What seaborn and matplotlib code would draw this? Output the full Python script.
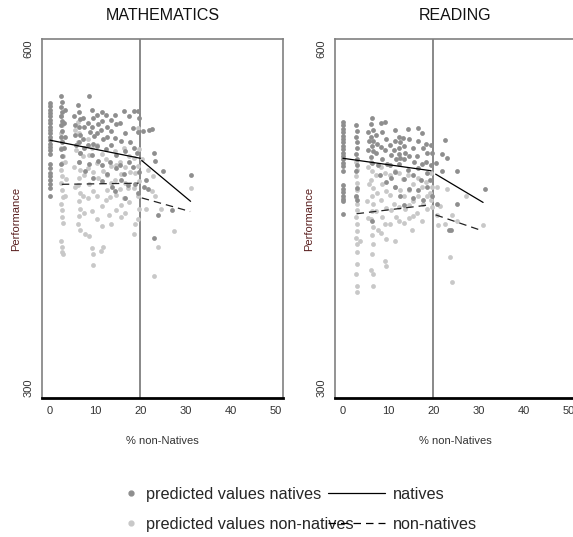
import numpy as np
import pandas as pd
import matplotlib
matplotlib.use("Agg")
import matplotlib.pyplot as plt
import seaborn as sns
from matplotlib.lines import Line2D

# ---- data ----
# MATHEMATICS, natives (dark points)
math_nat_x = [0] * 24 + [
    2.4, 2.6, 2.5, 2.7, 2.4, 2.6, 2.5, 2.7, 2.5, 2.6, 2.4, 2.6, 2.5, 3.3, 3.1, 3.4, 3.2,
    5.4, 5.6, 5.5, 5.8, 6.3, 6.5, 6.6, 6.4, 6.7, 6.5, 6.6, 6.4, 7.3, 7.6, 7.2, 7.5, 7.8,
    8.6, 8.4, 8.8, 8.5, 8.7, 9.4, 9.6, 9.3, 9.7, 9.5, 9.4, 9.6,
    10.4, 10.7, 10.5, 10.3, 10.6, 11.4, 11.6, 11.3, 11.7, 11.5, 11.4,
    12.4, 12.7, 12.5, 12.3, 12.6, 13.4, 13.6, 13.5, 13.3, 13.7,
    14.3, 14.6, 14.4, 14.7, 14.5, 14.4, 15.4, 15.6, 15.5, 15.7,
    16.4, 16.6, 16.5, 16.3, 16.6, 17.4, 17.6, 17.5, 17.3,
    18.5, 18.3, 18.6, 18.4, 18.7, 19.4, 19.6, 19.5, 19.3, 19.7, 19.5,
    20.5, 21.8, 22.5, 22.9, 23.3, 25.0, 21.3, 20.8, 21.6, 31.3, 24.0, 27.0, 23.0]
math_nat_y = [552, 549, 546, 543, 540, 537, 534, 531, 528, 525, 522, 519, 516, 513, 510, 507,
              498, 494, 490, 487, 484, 480, 477, 470] + [
    558, 553, 548, 544, 540, 536, 532, 527, 522, 517, 511, 505, 498, 546, 534, 522, 512,
    540, 532, 524, 515, 550, 544, 538, 531, 524, 517, 508, 500, 539, 531, 520, 512, 492,
    558, 534, 526, 515, 498, 546, 539, 531, 523, 516, 506, 486,
    541, 533, 525, 514, 501, 544, 536, 528, 520, 497, 483,
    541, 531, 522, 511, 489, 537, 527, 515, 500, 478,
    541, 533, 521, 506, 494, 474, 534, 518, 497, 484,
    545, 525, 509, 489, 468, 540, 517, 500, 479,
    545, 530, 512, 495, 480, 545, 539, 526, 508, 491, 472,
    527, 528, 529, 508, 501, 492, 484, 478, 476, 488, 453, 457, 433]

# MATHEMATICS, non-natives (light points)
math_non_x = [
    2.5, 2.7, 2.4, 2.6, 2.5, 2.8, 2.6, 2.4, 2.7, 2.5, 2.6, 2.8, 2.5, 2.7, 2.6, 2.9, 2.5, 2.7, 2.6, 2.8,
    3.4, 3.6, 3.3,
    5.5, 5.7, 5.4, 5.6, 6.2, 6.5, 6.3, 6.6, 6.4, 6.7, 6.5, 6.3, 6.6, 6.4, 6.7, 6.5, 6.3, 6.6,
    7.3, 7.6, 7.2, 7.5, 7.8,
    8.4, 8.7, 8.5, 8.6, 8.4, 8.6, 9.4, 9.6, 9.5, 9.3, 9.4, 9.6, 9.5,
    10.5, 10.3, 10.7, 10.5, 10.4, 11.4, 11.7, 11.5, 11.6, 11.7, 11.3,
    12.4, 12.6, 12.5, 12.3, 13.0, 13.4, 13.6, 13.3, 13.5,
    14.3, 14.6, 14.4, 14.7, 14.5, 15.4, 15.8, 15.5, 15.7, 15.8,
    16.4, 16.6, 16.5, 16.3, 16.7, 17.4, 17.6, 17.3, 17.5,
    18.5, 18.7, 18.6, 18.7, 18.5, 19.5, 19.6, 19.4, 19.6, 19.5, 19.7, 19.4,
    20.4, 21.7, 22.8, 23.3, 22.6, 31.3, 21.2, 24.6, 27.5, 24.0, 23.0]
math_non_y = [
    540, 532, 525, 518, 512, 505, 499, 493, 487, 481, 475, 469, 463, 457, 451, 446, 430, 425, 420, 418,
    500, 485, 470,
    528, 510, 495, 478, 535, 525, 517, 508, 500, 493, 486, 479, 472, 465, 458, 452, 445, 440,
    505, 488, 470, 455, 436,
    520, 506, 494, 480, 468, 434, 512, 491, 474, 456, 424, 418, 409,
    515, 499, 486, 470, 449, 507, 492, 461, 443, 425, 421,
    502, 488, 475, 466, 453, 496, 481, 469, 445,
    509, 497, 484, 471, 457, 500, 489, 476, 462, 451,
    512, 495, 481, 468, 455, 505, 491, 477, 464,
    503, 490, 477, 445, 436, 530, 511, 496, 483, 470, 458, 449,
    502, 493, 487, 470, 474, 477, 458, 458, 439, 425, 399]

# READING, natives
read_nat_x = [0] * 22 + [
    2.8, 3.1, 2.9, 3.0, 3.2, 2.9, 3.1, 3.0, 2.8, 3.1, 2.9, 3.0,
    5.5, 5.8, 5.6, 6.4, 6.2, 6.6, 6.3, 6.7, 6.4, 6.6, 6.3, 6.5, 6.4, 7.3, 7.6, 7.4, 7.7,
    8.4, 8.6, 8.5, 8.7, 8.3, 9.3, 9.6, 9.4, 9.7, 9.5,
    10.5, 10.7, 10.4, 10.6, 11.4, 11.6, 11.3, 11.7, 11.5, 11.6,
    12.4, 12.6, 12.3, 12.5, 12.7, 12.4, 12.6, 13.3, 13.5, 13.7, 13.4, 13.6, 13.5,
    14.4, 14.7, 14.5, 14.3, 14.6, 15.4, 15.7, 15.5, 15.6,
    16.5, 16.7, 16.4, 16.6, 16.5, 17.4, 17.6, 17.5, 17.3, 17.7,
    18.4, 18.6, 18.3, 18.7, 18.5, 19.4, 19.6, 19.5, 19.3, 19.7,
    22.6, 21.9, 23.0, 20.6, 21.9, 25.3, 31.4, 20.9, 25.2, 23.5, 24.0]
read_nat_y = [535, 532, 529, 526, 523, 520, 517, 514, 511, 508, 505, 502, 499, 496, 492,
              479, 476, 473, 470, 467, 465, 454] + [
    532, 527, 522, 517, 512, 507, 502, 497, 492, 477, 470, 466,
    526, 518, 510, 539, 533, 528, 522, 518, 514, 509, 504, 499, 448, 524, 516, 508, 497,
    534, 526, 513, 502, 488, 535, 520, 510, 498, 482,
    515, 506, 497, 486, 528, 518, 510, 502, 491, 478,
    522, 517, 512, 507, 503, 498, 470, 521, 514, 508, 502, 485, 462,
    529, 520, 505, 493, 476, 512, 500, 488, 468,
    530, 518, 505, 494, 475, 525, 512, 498, 484, 466,
    516, 508, 500, 490, 478, 515, 508, 497, 484, 470,
    519, 507, 503, 499, 492, 492, 476, 463, 463, 440, 440]

# READING, non-natives
read_non_x = [
    2.9, 3.1, 2.8, 3.0, 3.2, 2.9, 3.1, 3.0, 2.8, 3.1, 3.0, 2.9, 3.1, 3.0, 3.2, 2.9, 3.0, 3.1, 3.7,
    5.5, 5.7, 5.4, 5.6, 6.2, 6.5, 6.3, 6.6, 6.4, 6.7, 6.5, 6.3, 6.6, 6.4, 6.7, 6.5, 6.3, 6.6, 6.6,
    7.3, 7.6, 7.4, 7.7,
    8.4, 8.6, 8.5, 8.7, 8.4, 9.4, 9.6, 9.5, 9.3, 9.6, 9.4, 9.6,
    10.5, 10.3, 10.7, 10.5, 11.4, 11.6, 11.3, 11.7, 11.5,
    12.4, 12.6, 12.5, 12.3, 13.3, 13.5, 13.7, 13.4,
    14.4, 14.6, 14.5, 14.7, 15.4, 15.6, 15.5, 15.3,
    16.5, 16.7, 16.4, 17.4, 17.6, 17.5,
    18.4, 18.6, 18.5, 19.4, 19.6, 19.5, 19.3, 19.7,
    20.7, 23.0, 27.3, 21.4, 24.2, 20.8, 21.1, 25.3, 31.0, 22.6, 23.6, 24.2]
read_non_y = [
    500, 493, 487, 481, 475, 469, 463, 457, 451, 445, 439, 433, 427, 420, 410, 401, 390, 385, 430,
    495, 480, 465, 450, 500, 492, 484, 477, 470, 463, 456, 449, 442, 435, 427, 418, 404, 401, 390,
    488, 472, 456, 440,
    495, 480, 466, 451, 437, 490, 474, 459, 445, 432, 412, 408,
    488, 471, 457, 445, 492, 478, 463, 451, 430,
    490, 475, 460, 448, 485, 470, 458, 446,
    488, 475, 462, 450, 480, 465, 452, 440,
    486, 470, 455, 478, 463, 448,
    482, 470, 458, 490, 478, 466, 472, 460,
    478, 476, 470, 461, 453, 453, 444, 448, 444, 445, 416, 394]

# fitted lines: two segments each, split at 20 %
math_nat_line = [([0, 20], [519, 503]), ([20.3, 31.1], [501, 465])]
math_non_line = [([2.6, 19.6], [480, 481]), ([20.3, 31.0], [468, 456])]
read_nat_line = [([0, 19.5], [503, 492]), ([20.5, 31.0], [489, 464])]
read_non_line = [([3.0, 19.5], [454, 462]), ([20.5, 30.8], [453, 439])]

panels = [
    ("MATHEMATICS", math_nat_x, math_nat_y, math_non_x, math_non_y, math_nat_line, math_non_line),
    ("READING", read_nat_x, read_nat_y, read_non_x, read_non_y, read_nat_line, read_non_line),
]

nat_color = "#8e8e8e"
non_color = "#c8c8c8"
label_color = "#5a1f1f"

sns.set_style("white")
plt.rcParams["font.family"] = ["Liberation Sans", "DejaVu Sans"]

fig = plt.figure(figsize=(5.73, 5.37), dpi=100)
positions = [[0.0733, 0.2588, 0.4206, 0.6686], [0.5846, 0.2588, 0.4206, 0.6686]]

for pos, (title, nx, ny, ox, oy, nline, oline) in zip(positions, panels):
    ax = fig.add_axes(pos)
    sns.scatterplot(x=ox, y=oy, ax=ax, color=non_color, s=12, linewidth=0, marker="o", zorder=2)
    sns.scatterplot(x=nx, y=ny, ax=ax, color=nat_color, s=12, linewidth=0, marker="o", zorder=3)
    for sx, sy in nline:
        sns.lineplot(x=sx, y=sy, ax=ax, color="black", linewidth=0.9, sort=False, estimator=None, zorder=4)
    for sx, sy in oline:
        ln = sns.lineplot(x=sx, y=sy, ax=ax, color="#222222", linewidth=0.9, sort=False,
                          estimator=None, zorder=4)
        ln.lines[-1].set_dashes([6, 4])
    ax.axvline(20, color="#7f7f7f", linewidth=1.3, zorder=1)

    ax.set_xlim(-1.77, 51.55)
    ax.set_ylim(291.2, 608.4)
    ax.set_xticks([0, 10, 20, 30, 40, 50])
    ax.set_yticks([300, 600])
    ax.tick_params(axis="both", direction="out", length=4, width=0.8, color="#333333",
                   labelsize=8, labelcolor="#333333", pad=2)
    ax.tick_params(axis="y", labelrotation=90)
    for lab in ax.get_yticklabels():
        lab.set_va("center")
    ax.set_xlabel("% non-Natives", fontsize=8, color="#333333", labelpad=14)
    ax.set_ylabel("Performance", fontsize=8, color=label_color, labelpad=2)
    ax.set_title(title, fontsize=11.5, color="#111111", pad=14)
    for side in ["left", "right", "top"]:
        ax.spines[side].set_color("#808080")
        ax.spines[side].set_linewidth(1.2)
    ax.spines["bottom"].set_color("black")
    ax.spines["bottom"].set_linewidth(2)

# legends below the panels
mk_handles = [
    Line2D([], [], marker="o", linestyle="none", color=nat_color, markersize=3.5),
    Line2D([], [], marker="o", linestyle="none", color=non_color, markersize=3.5),
]
leg1 = fig.legend(mk_handles, ["predicted values natives", "predicted values non-natives"],
                  loc="upper left", bbox_to_anchor=(0.220, 0.093), frameon=False,
                  fontsize=11.7, handlelength=0.55, handletextpad=0.7, labelspacing=0.92,
                  borderpad=0, borderaxespad=0)
ln_handles = [
    Line2D([], [], color="black", linewidth=0.9),
    Line2D([], [], color="black", linewidth=0.9, dashes=[6, 4]),
]
leg2 = fig.legend(ln_handles, ["natives", "non-natives"],
                  loc="upper left", bbox_to_anchor=(0.572, 0.093), frameon=False,
                  fontsize=11.7, handlelength=3.5, handletextpad=0.54, labelspacing=0.92,
                  borderpad=0, borderaxespad=0)

fig.savefig("out.png", dpi=100)
